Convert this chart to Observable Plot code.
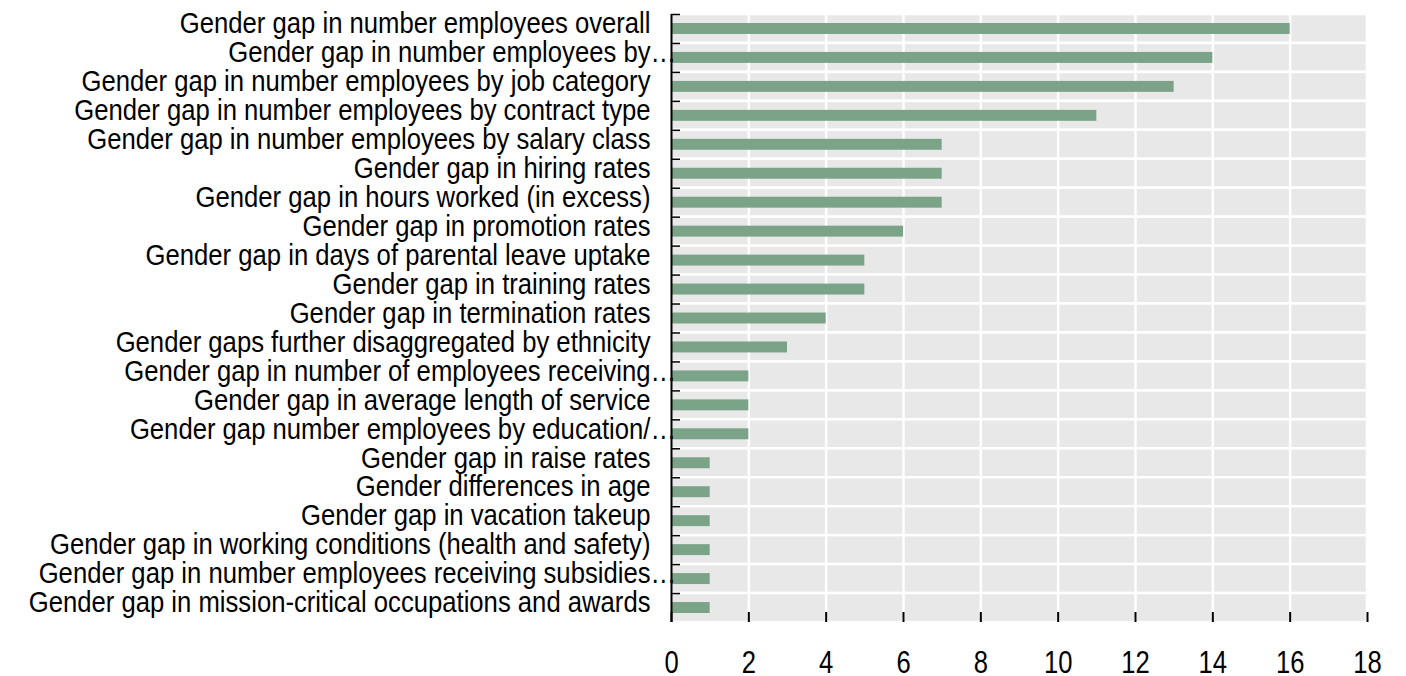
<!DOCTYPE html>
<html>
<head>
<meta charset="utf-8">
<script src="https://cdn.jsdelivr.net/npm/d3@7"></script>
<script src="https://cdn.jsdelivr.net/npm/@observablehq/plot@0.6"></script>
<style>
  html, body { margin: 0; padding: 0; background: #fff; }
  #chart svg { display: block; }
</style>
</head>
<body>
<div id="chart"></div>
<script>
const categories = [
  "Gender gap in number employees overall",
  "Gender gap in number employees by…",
  "Gender gap in number employees by job category",
  "Gender gap in number employees by contract type",
  "Gender gap in number employees by salary class",
  "Gender gap in hiring rates",
  "Gender gap in hours worked (in excess)",
  "Gender gap in promotion rates",
  "Gender gap in days of parental leave uptake",
  "Gender gap in training rates",
  "Gender gap in termination rates",
  "Gender gaps further disaggregated by ethnicity",
  "Gender gap in number of employees receiving…",
  "Gender gap in average length of service",
  "Gender gap number employees by education/…",
  "Gender gap in raise rates",
  "Gender differences in age",
  "Gender gap in vacation takeup",
  "Gender gap in working conditions (health and safety)",
  "Gender gap in number employees receiving subsidies…",
  "Gender gap in mission-critical occupations and awards"
];
const values = [16, 14, 13, 11, 7, 7, 7, 6, 5, 5, 4, 3, 2, 2, 2, 1, 1, 1, 1, 1, 1];
const xTicks = [0, 2, 4, 6, 8, 10, 12, 14, 16, 18];
const xGrid = [2, 4, 6, 8, 10, 12, 14, 16];

const data = categories.map((c, i) => ({label: c, value: values[i]}));

const W = 1406, H = 676;
const mL = 671, mR = 39, mT = 14, mB = 54;
const step = (H - mT - mB) / categories.length;
const unitPx = (W - mL - mR) / 18;
const font = "'Liberation Sans', Arial, sans-serif";

const base = d => d.label.endsWith("…") ? d.label.slice(0, -1) : d.label;

const chart = Plot.plot({
  width: W,
  height: H,
  marginLeft: mL,
  marginRight: mR,
  marginTop: mT,
  marginBottom: mB,
  style: {fontFamily: font, background: "#fff"},
  x: {domain: [0, 18], label: null},
  y: {domain: categories, padding: 0, round: false, label: null},
  marks: [
    Plot.barX(data, {x1: 0, x2: 18, y: "label", fill: "#e8e8e8", stroke: "#fff", strokeWidth: 2.5}),
    Plot.ruleX(xGrid, {stroke: "#fff", strokeWidth: 2.5}),
    Plot.barX(data, {x: "value", y: "label", fill: "#7aa387", insetTop: 9, insetBottom: 9}),
    Plot.ruleY(categories, {y: d => d, x1: 0, x2: 9 / unitPx, dy: -step / 2, stroke: "#000", strokeWidth: 1.5}),
    Plot.ruleX([0], {stroke: "#000", strokeWidth: 2}),
    Plot.ruleY([0], {frameAnchor: "bottom", stroke: "#000", strokeWidth: 2}),
    Plot.axisX({ticks: xTicks, tickSize: -10, tickPadding: 38, fontSize: 32, stroke: "#000", strokeWidth: 2, color: "#000"}),
    Plot.axisY({tickSize: 0, tickFormat: () => ""}),
    Plot.text(data, {x: 0, y: "label", text: base, textAnchor: "end", dx: -21, dy: -5, fontSize: 29, fill: "#000"}),
    Plot.text(data.filter(d => d.label.endsWith("…")), {x: 0, y: "label", text: () => "…", textAnchor: "start", dx: -21, dy: -5, fontSize: 29, fill: "#000"})
  ]
});

// emulate a condensed (narrow) typeface by horizontal compression
const svg = d3.select(chart);
svg.selectAll('g[aria-label="text"] text').each(function() {
  const t = this.getAttribute("transform") || "";
  this.setAttribute("transform", t + " scale(0.885,1)");
});
svg.selectAll('g[aria-label="x-axis tick label"] text').each(function() {
  const t = this.getAttribute("transform") || "";
  this.setAttribute("transform", t + " scale(0.8,1)");
});
document.getElementById("chart").appendChild(chart);
</script>
</body>
</html>
